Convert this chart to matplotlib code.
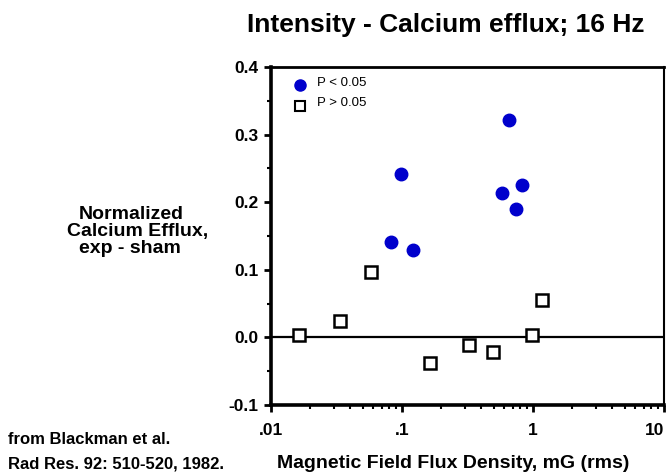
import matplotlib.pyplot as plt
from matplotlib.ticker import FixedLocator, LogLocator, NullFormatter, MultipleLocator

plt.rcParams['font.family'] = ['Liberation Sans', 'DejaVu Sans']

# P < 0.05 (filled blue)
sig_x = [0.082, 0.121, 0.098, 0.656, 0.579, 0.824, 0.741]
sig_y = [0.141, 0.129, 0.242, 0.321, 0.213, 0.226, 0.190]

# P > 0.05 (open squares)
ns_x = [0.0164, 0.0337, 0.058, 0.164, 0.325, 0.496, 0.98, 1.17]
ns_y = [0.004, 0.024, 0.097, -0.038, -0.012, -0.022, 0.004, 0.056]

xticks = [0.01, 0.1, 1, 10]
xticklabels = ['.01', '.1', '1', '10']
yticks = [-0.1, 0.0, 0.1, 0.2, 0.3, 0.4]

fig = plt.figure(figsize=(6.71, 4.75), dpi=100)
ax = fig.add_axes([0.4039, 0.1474, 0.5857, 0.7116])

ax.axhline(0, color='black', lw=1.6, zorder=1)
ax.plot(sig_x, sig_y, 'o', ms=9, color='#0000cc', mec='#0000cc', zorder=3)
ax.plot(ns_x, ns_y, 's', ms=8, mfc='white', mec='black', mew=1.8, zorder=3)

ax.set_xscale('log')
ax.set_xlim(0.01, 10)
ax.set_ylim(-0.1, 0.4)
ax.xaxis.set_major_locator(FixedLocator(xticks))
ax.set_xticklabels(xticklabels)
ax.xaxis.set_minor_locator(LogLocator(base=10, subs=range(2, 10)))
ax.xaxis.set_minor_formatter(NullFormatter())
ax.set_yticks(yticks)
ax.set_yticklabels([f'{v:.1f}' for v in yticks])
ax.yaxis.set_minor_locator(MultipleLocator(0.05))

ax.tick_params(which='major', direction='out', length=5, width=2, labelsize=12.5)
ax.tick_params(which='minor', direction='out', length=3, width=1.5)
ax.tick_params(axis='x', pad=8)
ax.tick_params(axis='y', pad=4)
for lab in ax.get_xticklabels() + ax.get_yticklabels():
    lab.set_fontweight('bold')
ax.get_xticklabels()[-1].set_horizontalalignment('right')

ax.spines['left'].set_linewidth(2.6)
ax.spines['bottom'].set_linewidth(2.6)
ax.spines['top'].set_linewidth(2.0)
ax.spines['right'].set_linewidth(1.5)

# legend drawn by hand
ax.plot([0.0165], [0.374], 'o', ms=8, color='#0000cc')
ax.text(0.0225, 0.377, 'P < 0.05', fontsize=9.5, va='center')
ax.plot([0.0165], [0.343], 's', ms=7, mfc='white', mec='black', mew=1.5)
ax.text(0.0225, 0.346, 'P > 0.05', fontsize=9.5, va='center')

fig.text(446 / 671, 1 - 25 / 475, 'Intensity - Calcium efflux; 16 Hz', fontsize=19,
         fontweight='bold', ha='center', va='center')
fig.text(453 / 671, 1 - 464 / 475, 'Magnetic Field Flux Density, mG (rms)', fontsize=14,
         fontweight='bold', ha='center', va='center')

fig.text(79 / 671, 1 - 219 / 475, 'Normalized', fontsize=14, fontweight='bold', va='baseline')
fig.text(67 / 671, 1 - 236 / 475, 'Calcium Efflux,', fontsize=14, fontweight='bold', va='baseline')
fig.text(79 / 671, 1 - 253 / 475, 'exp - sham', fontsize=14, fontweight='bold', va='baseline')

fig.text(8 / 671, 1 - 440 / 475, 'from Blackman et al.', fontsize=12, fontweight='bold', va='center')
fig.text(8 / 671, 1 - 464 / 475, 'Rad Res. 92: 510-520, 1982.', fontsize=12, fontweight='bold', va='center')

fig.savefig('out.png', dpi=100)
